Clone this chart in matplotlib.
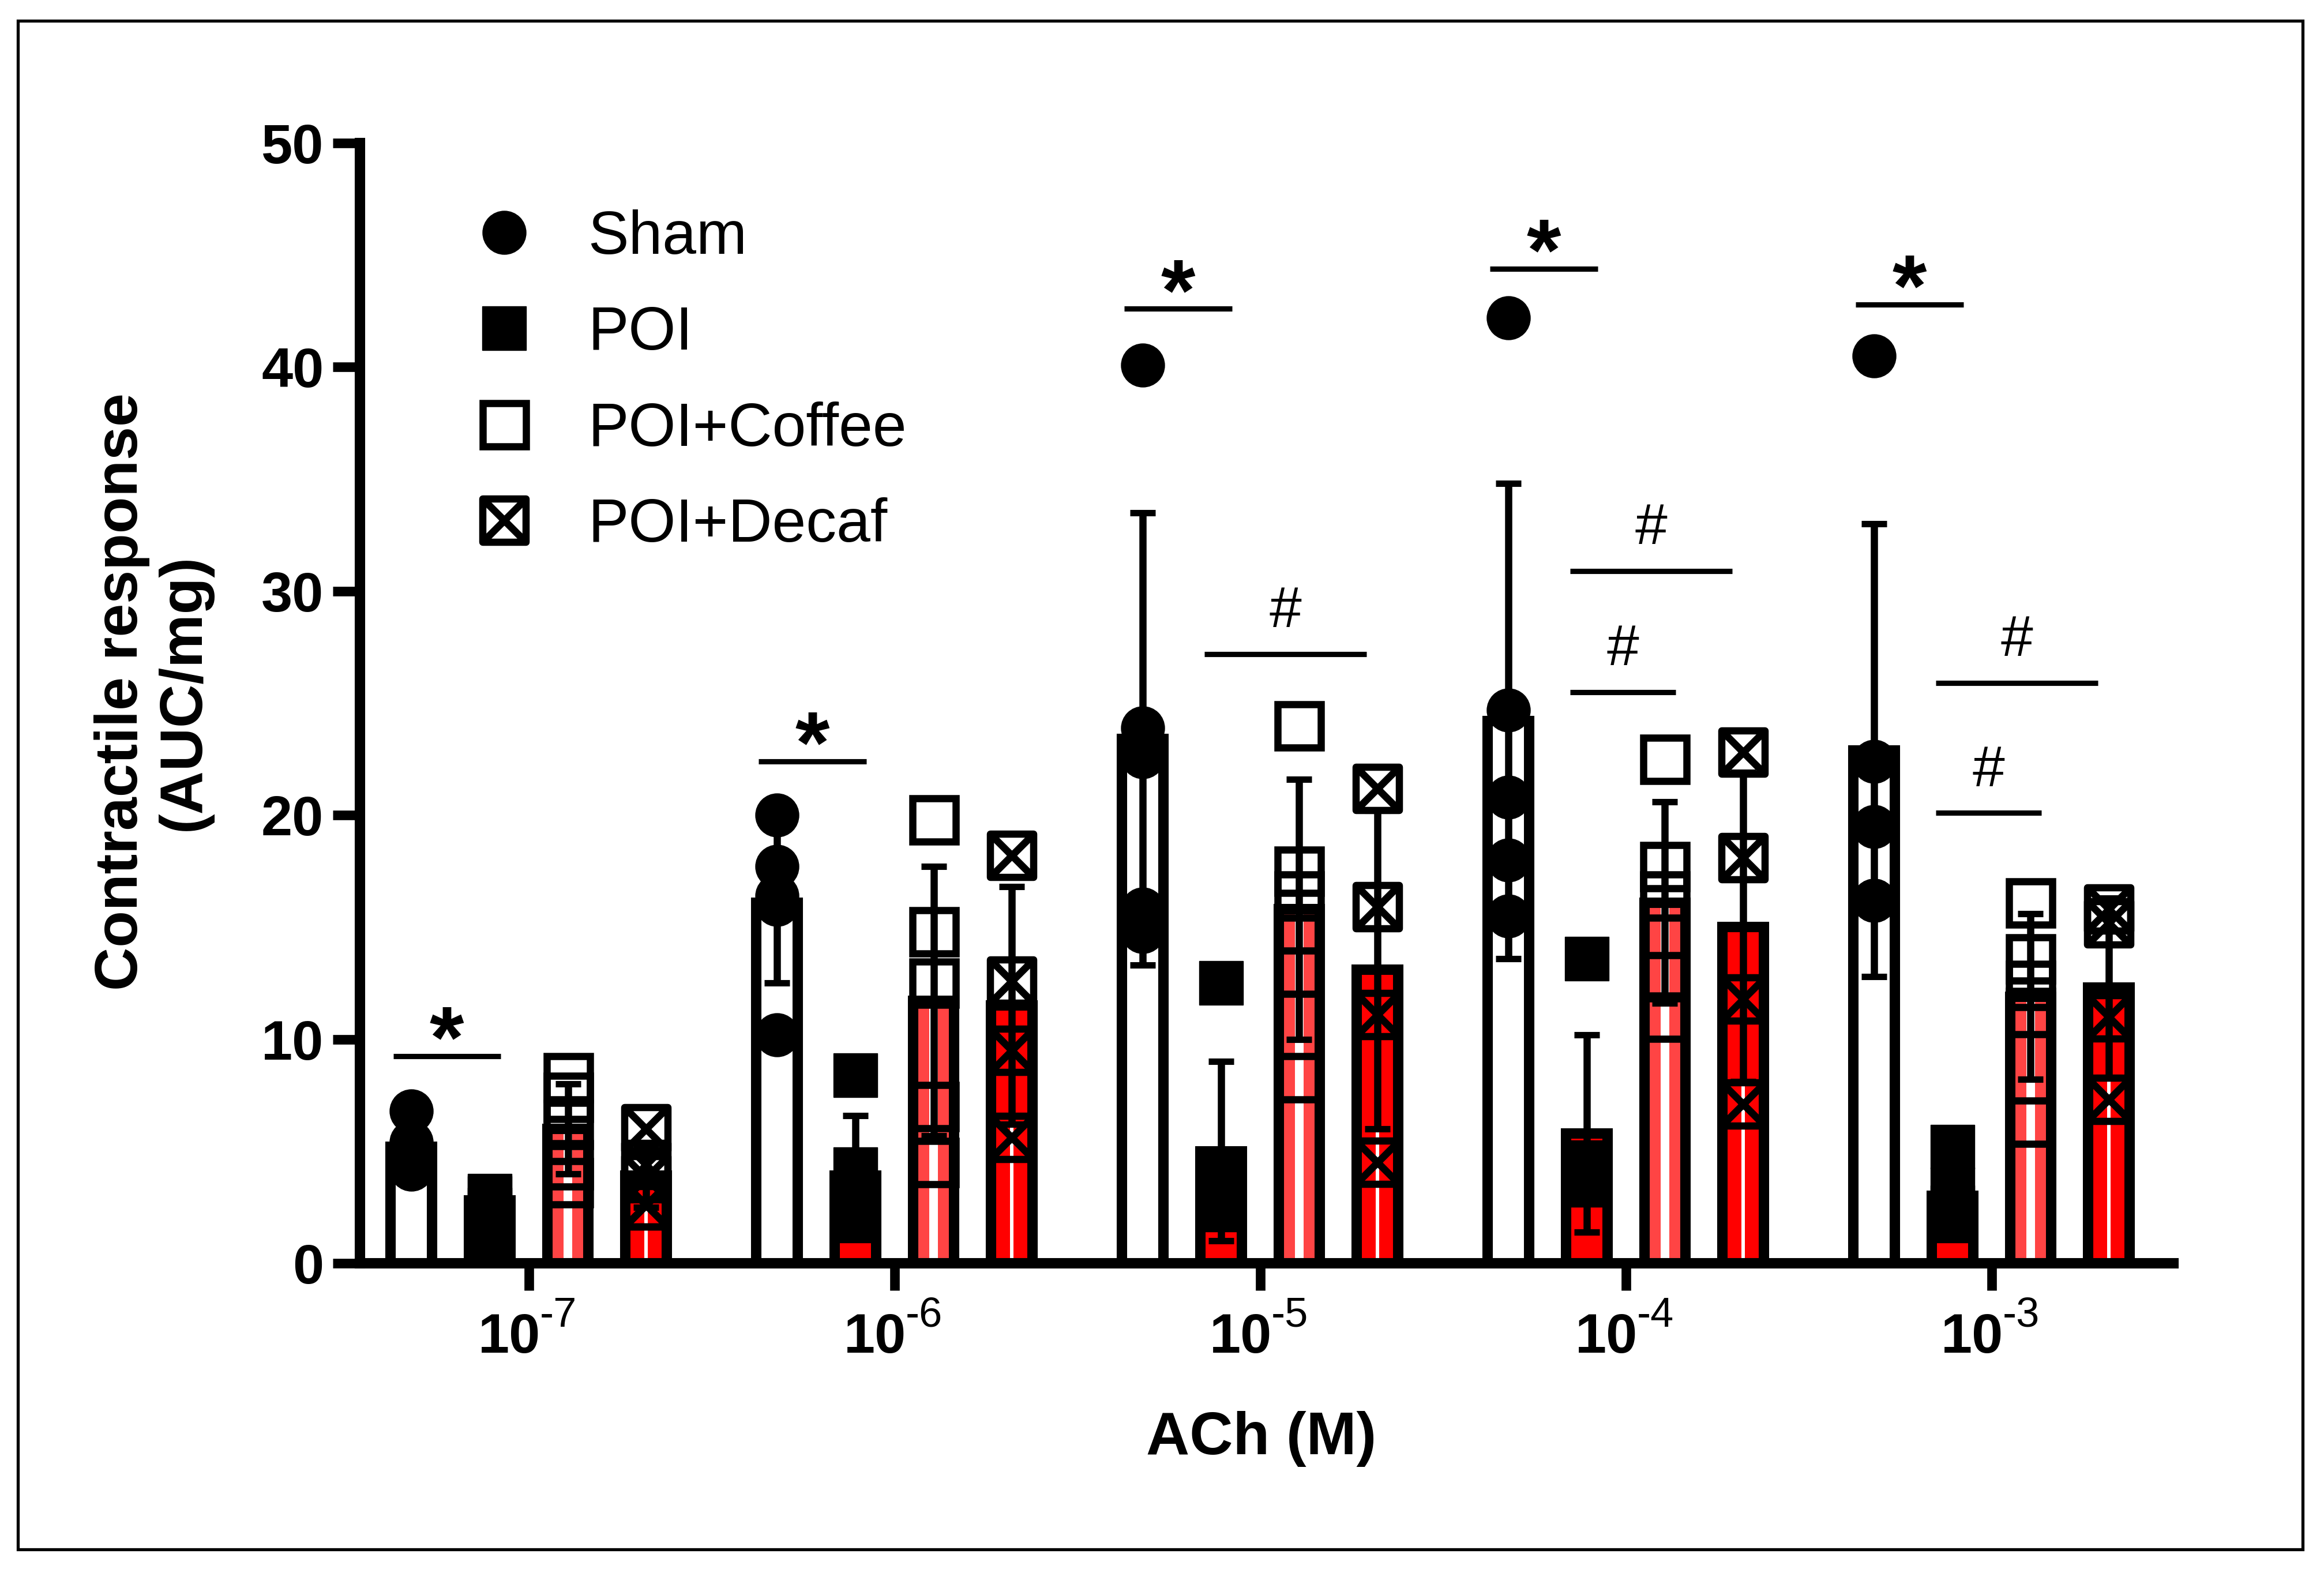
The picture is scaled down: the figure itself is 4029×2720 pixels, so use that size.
import numpy as np
import matplotlib
matplotlib.use("Agg")
import matplotlib.pyplot as plt
from matplotlib.path import Path
from matplotlib.lines import Line2D
from matplotlib.patches import Rectangle

plt.rcParams['font.family'] = ['Liberation Sans', 'DejaVu Sans']

# ---------------- data ----------------
doses = ['-7', '-6', '-5', '-4', '-3']
groups = ['Sham', 'POI', 'POI+Coffee', 'POI+Decaf']

sham_mean = [5.2, 16.1, 23.4, 24.2, 22.9]
sham_sd = [1.0, 3.6, 10.1, 10.6, 10.1]
poi_mean = [2.8, 3.9, 5.0, 5.8, 3.0]
poi_sd = [0.9, 2.7, 4.0, 4.4, 1.4]
coffee_mean = [6.0, 11.7, 15.8, 16.1, 11.9]
coffee_sd = [2.0, 6.0, 5.8, 4.5, 3.7]
decaf_mean = [3.9, 11.5, 13.1, 15.0, 12.3]
decaf_sd = [1.4, 5.3, 7.1, 6.9, 4.0]

sham_pts = [[6.8, 5.4, 5.0, 4.5, 4.2], [20.0, 17.7, 16.4, 16.0, 10.2],
            [40.1, 23.9, 22.6, 15.8, 14.8], [42.2, 24.7, 20.8, 18.0, 15.5],
            [40.5, 22.4, 19.5, 16.2, 16.2]]
poi_pts = [[3.0, 2.9, 2.4, 1.7, 0.9], [8.4, 4.2, 2.9, 2.1, 1.9],
           [12.5, 4.0, 3.5, 2.6, 2.4], [13.6, 4.5, 3.8, 3.5, 3.5],
           [5.2, 3.3, 2.5, 2.0, 1.9]]
coffee_pts = [[8.3, 7.4, 6.2, 4.4, 3.6], [19.8, 14.8, 12.5, 7.0, 4.5],
              [24.0, 17.5, 16.4, 13.0, 8.3], [22.5, 17.7, 16.4, 12.8, 11.0],
              [16.1, 13.6, 12.4, 11.2, 6.3]]
decaf_pts = [[6.0, 4.4, 3.8, 2.6, 2.6], [18.2, 12.6, 9.5, 5.6],
             [21.2, 15.9, 11.1, 4.5], [22.8, 18.1, 11.8, 7.1],
             [15.8, 15.2, 11.0, 7.3]]

# significance bars: * Sham vs POI, # POI vs POI+Decaf / POI+Coffee
star_y = [9.25, 22.4, 42.6, 44.4, 42.8]
hash_decaf_y = [None, None, 27.2, 30.9, 25.9]
hash_coffee_y = [None, None, None, 25.5, 20.1]

# ---------------- style ----------------
offsets = [-0.321, -0.107, 0.107, 0.321]
bw = 0.113
faces = ['white', '#ff0000', '#ff4444', '#ff0000']
stripes = [None, None, 0.024, 0.009]

xsq = Path([(-1, -1), (1, -1), (1, 1), (-1, 1), (-1, -1),
            (-1, -1), (1, 1), (-1, 1), (1, -1)],
           [Path.MOVETO, Path.LINETO, Path.LINETO, Path.LINETO, Path.CLOSEPOLY,
            Path.MOVETO, Path.LINETO, Path.MOVETO, Path.LINETO])
mstyles = [dict(marker='o', ms=54, mfc='black', mec='black', mew=1),
           dict(marker='s', ms=55, mfc='black', mec='black', mew=1),
           dict(marker='s', ms=54, mfc='none', mec='black', mew=9),
           dict(marker=xsq, ms=54, mfc='none', mec='black', mew=9)]

fig = plt.figure(figsize=(40.30, 27.20), dpi=100)
ax = fig.add_axes([0.1548, 0.1949, 0.7801, 0.7139])

x = np.arange(len(doses))
means = [sham_mean, poi_mean, coffee_mean, decaf_mean]
sds = [sham_sd, poi_sd, coffee_sd, decaf_sd]
pts = [sham_pts, poi_pts, coffee_pts, decaf_pts]

for k in range(4):
    xs = x + offsets[k]
    ax.bar(xs, means[k], width=bw, color=faces[k], linewidth=0, zorder=2)
    if stripes[k]:
        ax.bar(xs, means[k], width=stripes[k], color='white', linewidth=0, zorder=2.1)
    ax.bar(xs, means[k], width=bw, fill=False, edgecolor='black', linewidth=13, zorder=2.2)
    ax.errorbar(xs, means[k], yerr=sds[k], fmt='none', ecolor='black',
                elinewidth=9, capsize=15.5, capthick=8, zorder=3)
    for i, p in enumerate(pts[k]):
        ax.plot([xs[i]] * len(p), p, linestyle='none', zorder=4, **mstyles[k])

# significance annotations
for i in range(len(doses)):
    x0 = x[i] + offsets[0] - 0.05
    x1 = x[i] + offsets[1] + 0.03
    ax.plot([x0, x1], [star_y[i]] * 2, color='black', lw=6.6, solid_capstyle='butt', zorder=4)
    ax.text((x0 + x1) / 2, star_y[i] - 0.5, '*', ha='center', va='baseline',
            fontsize=110, fontweight='bold')
    if hash_decaf_y[i] is not None:
        x0 = x[i] + offsets[1] - 0.045
        x1 = x[i] + offsets[3] - 0.03
        ax.plot([x0, x1], [hash_decaf_y[i]] * 2, color='black', lw=6.6, solid_capstyle='butt', zorder=4)
        ax.text((x0 + x1) / 2, hash_decaf_y[i] + 1.2, '#', ha='center', va='baseline', fontsize=72)
    if hash_coffee_y[i] is not None:
        x0 = x[i] + offsets[1] - 0.045
        x1 = x[i] + offsets[2] + 0.03
        ax.plot([x0, x1], [hash_coffee_y[i]] * 2, color='black', lw=6.6, solid_capstyle='butt', zorder=4)
        ax.text((x0 + x1) / 2, hash_coffee_y[i] + 1.2, '#', ha='center', va='baseline', fontsize=72)

# axes
ax.set_xlim(-0.462, 4.497)
ax.set_ylim(0, 50)
for s in ['top', 'right']:
    ax.spines[s].set_visible(False)
for s in ['left', 'bottom']:
    ax.spines[s].set_linewidth(13)
    ax.spines[s].set_capstyle('projecting')
ax.set_yticks([0, 10, 20, 30, 40, 50])
ax.set_xticks(x)
ax.tick_params(axis='both', direction='out', length=34, width=12, color='black')
ax.tick_params(axis='y', labelsize=70, pad=11)
ax.tick_params(axis='x', labelbottom=False)
for lab in ax.get_yticklabels():
    lab.set_fontweight('bold')

# x tick labels 10^-n
for i, d in enumerate(doses):
    ax.annotate('10', xy=(x[i], 0), xycoords=('data', 'axes fraction'), xytext=(15, -112),
                textcoords='offset points', ha='right', va='baseline', fontsize=70, fontweight='bold')
    ax.annotate(d, xy=(x[i], 0), xycoords=('data', 'axes fraction'), xytext=(14, -79),
                textcoords='offset points', ha='left', va='baseline', fontsize=52)

ax.set_xlabel('ACh (M)', fontsize=75, fontweight='bold')
ax.xaxis.set_label_coords(0.497, -0.132)
ax.set_ylabel('Contractile response\n(AUC/mg)', fontsize=75, fontweight='bold', linespacing=1.15)
ax.yaxis.set_label_coords(-0.0813, 0.51)

# legend
handles = [Line2D([], [], linestyle='none', **mstyles[k]) for k in range(4)]
ax.legend(handles, groups, loc='upper left', bbox_to_anchor=(0.0627, 0.941), frameon=False,
          fontsize=76, handlelength=1.0, handletextpad=0.88, labelspacing=0.64,
          borderpad=0, borderaxespad=0)

# outer frame
fig.patches.append(Rectangle((0.0077, 0.0125), 0.9829, 0.9743, transform=fig.transFigure,
                             fill=False, edgecolor='black', linewidth=3.8))

fig.savefig('out.png', dpi=100)
